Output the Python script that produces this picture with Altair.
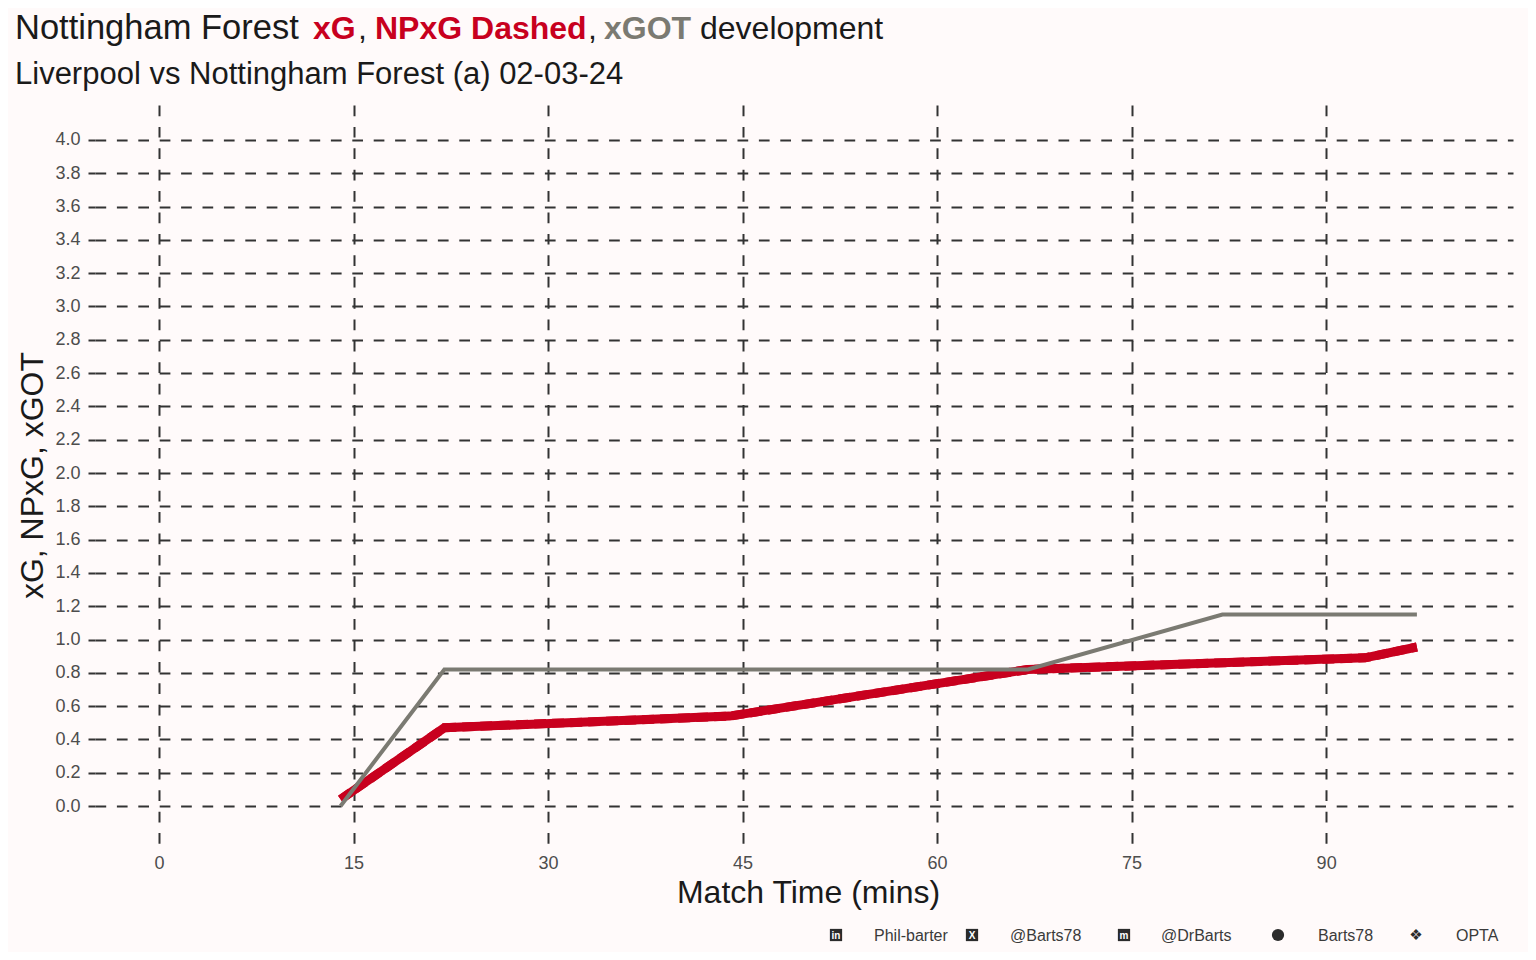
import altair as alt
import pandas as pd

# ---------------- data ----------------
minutes_xg = [14, 22, 44, 67, 93, 97]
xg_values = [0.04, 0.47, 0.54, 0.82, 0.89, 0.955]
npxg_values = [0.04, 0.47, 0.54, 0.82, 0.89, 0.955]
minutes_xgot = [14, 22, 67, 82, 97]
xgot_values = [0.0, 0.82, 0.82, 1.15, 1.15]

x_ticks = [0, 15, 30, 45, 60, 75, 90]
y_ticks = [0.0, 0.2, 0.4, 0.6, 0.8, 1.0, 1.2, 1.4, 1.6, 1.8, 2.0,
           2.2, 2.4, 2.6, 2.8, 3.0, 3.2, 3.4, 3.6, 3.8, 4.0]

title_parts = ["Nottingham Forest", "xG", ",", "NPxG Dashed", ",", "xGOT", "development"]
subtitle_text = "Liverpool vs Nottingham Forest (a) 02-03-24"
footer_texts = ["Phil-barter", "@Barts78", "@DrBarts", "Barts78", "OPTA"]

# ---------------- styling / layout ----------------
FONT = "Liberation Sans"
RED = "#c8001e"
GREY = "#7b7a72"
INK = "#1a1a1a"
BG = "#fffafa"
ICON = "#2b2b2b"
OX, OY = 95, 105  # plot origin in page pixels

title_x = [15, 313, 358, 375, 588, 604, 700]
title_sizes = [34.5, 32, 32, 32, 32, 32, 32]
title_colors = [INK, RED, INK, RED, INK, GREY, INK]
title_weights = ["normal", "bold", "normal", "bold", "normal", "bold", "normal"]

footer_x = [874, 1010, 1161, 1318, 1456]
icon_x = [836, 972, 1124, 1278, 1416]

df_xg = pd.DataFrame({"minute": minutes_xg, "value": xg_values})
df_npxg = pd.DataFrame({"minute": minutes_xg, "value": npxg_values})
df_xgot = pd.DataFrame({"minute": minutes_xgot, "value": xgot_values})

grid_dash = [10.7, 10.7]

x_enc = alt.X(
    "minute:Q",
    scale=alt.Scale(domain=[-4.94, 104.41], nice=False, zero=False),
    axis=alt.Axis(
        values=x_ticks, format="d", title="Match Time (mins)",
        grid=True, gridDash=grid_dash, gridColor="#333333", gridWidth=2,
        ticks=False, domain=False,
        labelFont=FONT, labelFontSize=18, labelColor="#4d4d4d", labelPadding=9,
        titleFont=FONT, titleFontSize=32, titleFontWeight="normal", titleColor=INK,
        titleX=713, titleY=57, titleBaseline="alphabetic", titleAlign="center",
    ),
)
y_enc = alt.Y(
    "value:Q",
    scale=alt.Scale(domain=[-0.234, 4.21], nice=False, zero=False),
    axis=alt.Axis(
        values=y_ticks, format=".1f", title="xG, NPxG, xGOT",
        grid=True, gridDash=grid_dash, gridColor="#333333", gridWidth=2,
        ticks=True, tickSize=7, tickColor="#333333", tickWidth=2, domain=False,
        labelFont=FONT, labelFontSize=18, labelColor="#4d4d4d", labelPadding=8,
        titleFont=FONT, titleFontSize=32, titleFontWeight="normal", titleColor=INK,
        titleX=-53, titleY=370, titleAngle=270, titleBaseline="alphabetic",
        titleAlign="center",
    ),
)

npxg_line = alt.Chart(df_npxg).mark_line(
    color=RED, strokeWidth=9, strokeDash=[12, 6]
).encode(x=x_enc, y=y_enc)
xg_line = alt.Chart(df_xg).mark_line(color=RED, strokeWidth=9).encode(x=x_enc, y=y_enc)
xgot_line = alt.Chart(df_xgot).mark_line(color=GREY, strokeWidth=4).encode(x=x_enc, y=y_enc)

layers = [npxg_line, xg_line, xgot_line]

one = pd.DataFrame({"k": [0]})

# Title pieces
for txt, px, fs, col, wt in zip(title_parts, title_x, title_sizes, title_colors, title_weights):
    layers.append(
        alt.Chart(one).mark_text(
            text=txt, font=FONT, fontSize=fs, fontWeight=wt, color=col,
            align="left", baseline="alphabetic",
        ).encode(x=alt.value(px - OX), y=alt.value(39 - OY))
    )

# Subtitle
layers.append(
    alt.Chart(one).mark_text(
        text=subtitle_text, font=FONT, fontSize=31, color=INK,
        align="left", baseline="alphabetic",
    ).encode(x=alt.value(15 - OX), y=alt.value(84 - OY))
)

# Footer texts
for txt, px in zip(footer_texts, footer_x):
    layers.append(
        alt.Chart(one).mark_text(
            text=txt, font=FONT, fontSize=16, color="#3a3a3a",
            align="left", baseline="alphabetic",
        ).encode(x=alt.value(px - OX), y=alt.value(941 - OY))
    )

# Footer icons: dark shapes with white letters (approximations)
icon_shapes = ["square", "square", "square", "circle", None]
for shp, px in zip(icon_shapes, icon_x):
    if shp is None:
        continue
    layers.append(
        alt.Chart(one).mark_point(
            shape=shp, filled=True, size=150, color=ICON, opacity=1,
        ).encode(x=alt.value(px - OX), y=alt.value(935 - OY))
    )
inner = [("in", icon_x[0]), ("X", icon_x[1]), ("m", icon_x[2])]
for glyph, px in inner:
    layers.append(
        alt.Chart(one).mark_text(
            text=glyph, font=FONT, fontSize=10, fontWeight="bold", color="#ffffff",
            align="center", baseline="middle",
        ).encode(x=alt.value(px - OX), y=alt.value(936 - OY))
    )
layers.append(
    alt.Chart(one).mark_text(
        text="\u2756", font="DejaVu Sans", fontSize=15, color=ICON,
        align="center", baseline="middle",
    ).encode(x=alt.value(icon_x[4] - OX), y=alt.value(935 - OY))
)

chart = alt.layer(*layers).properties(
    width=1418,
    height=740,
    autosize=alt.AutoSizeParams(type="none"),
    padding={"left": 87, "top": 97, "right": 15, "bottom": 107},
    background=BG,
).configure_view(strokeWidth=0)

chart.save("out.html", embed_options={"renderer": "svg", "actions": False})
